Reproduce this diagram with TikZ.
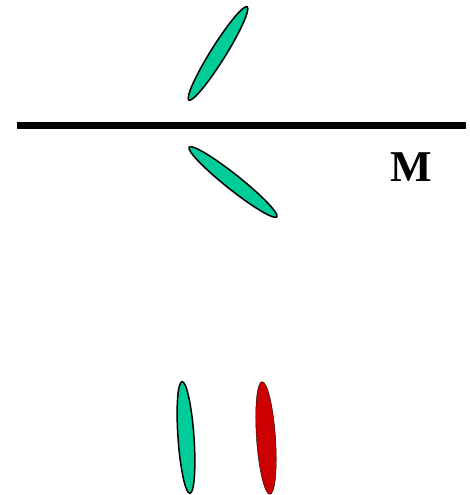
\documentclass[tikz,border=0pt]{standalone}
\usepackage{fontspec}
\setmainfont{Liberation Serif}
\usepackage{tikz}
\definecolor{leafgreen}{RGB}{0,204,153}
\definecolor{leafred}{RGB}{204,0,0}
\tikzset{
  greenleaf/.style={draw=black,line width=1.5,fill=leafgreen},
  redleaf/.style={fill=leafred}
}
\begin{document}
\begin{tikzpicture}[x=1pt,y=1pt,yscale=-1,xscale=1]
\useasboundingbox (0,0) rectangle (470,495);
%Mirror line
\draw [line width=7] (17,125.5) -- (466,125.5) ;
% Text Node
\node (mlabel) at (411,167.5) {\fontsize{44}{44}\selectfont\bfseries M};
%Shape: Ellipse above the line
\draw [greenleaf] (218,53.5) circle [x radius=55, y radius=7.5, rotate=-58] ;
%Shape: Ellipse below the line
\draw [greenleaf] (233,182) circle [x radius=56, y radius=7.5, rotate=38.5] ;
%Shape: Ellipse bottom left
\draw [greenleaf] (186,437.5) circle [x radius=56, y radius=8, rotate=86] ;
%Shape: Ellipse bottom right
\draw [redleaf] (266,438) circle [x radius=56.5, y radius=9.5, rotate=86] ;
\end{tikzpicture}
\end{document}
